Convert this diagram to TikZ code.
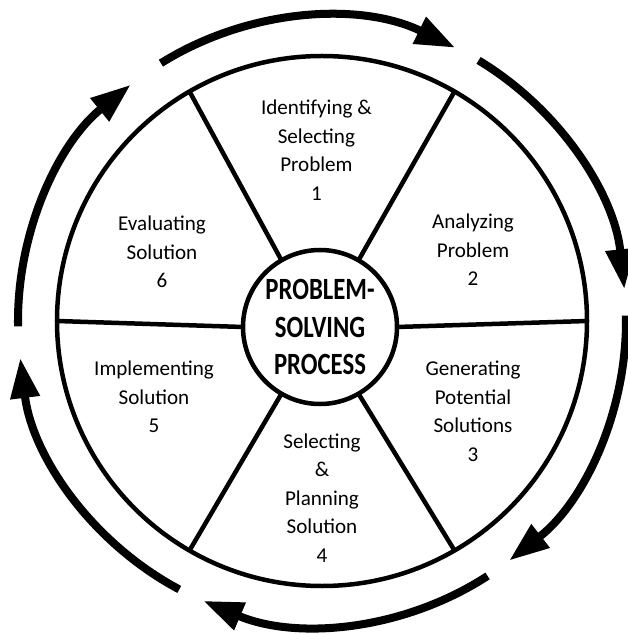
\documentclass[tikz,border=0pt]{standalone}
\usepackage{fontspec}
\setmainfont{Carlito}
\newfontfamily\hubfont{Carlito}[FakeStretch=0.8]
\usepackage{tikz}
\usetikzlibrary{arrows.meta}

\begin{document}
\begin{tikzpicture}[
  x=1cm,y=1cm,
  rule/.style={draw=black,line width=3.2pt},
  ring/.style={rule,circle,outer sep=0pt,inner sep=0pt},
  stage/.style={align=center,font=\fontsize{15}{20.3}\selectfont},
  turn/.style={-{Triangle[length=1.0cm,width=0.7cm]},draw=black,line width=5.7pt}
]
\useasboundingbox[fill=white] (-8.05,-7.825) rectangle (7.625,8.025);

% Wheel: outer rim, hub and six spokes between them.
\node[ring,minimum size=13.25cm] (rim) at (0,0) {};
\node[ring,minimum size=3.85cm,align=center,
  font=\hubfont\bfseries\fontsize{22}{27}\selectfont] (hub) at (-0.05,-0.15)
  {PROBLEM-\\SOLVING\\PROCESS};
\foreach \a in {0,60,...,300}
  \draw[rule] (hub.\a) -- (rim.\a);

% Stage labels, one per sector, clockwise from the top.
\node[stage] (s1) at (-0.14,4.275) {Identifying \&\\Selecting\\Problem\\1};
\node[stage] (s2) at (3.775,1.775) {Analyzing\\Problem\\2};
\node[stage] (s3) at (3.775,-2.26) {Generating\\Potential\\Solutions\\3};
\node[stage] (s4) at (0.0,-4.425) {Selecting\\\&\\Planning\\Solution\\4};
\node[stage] (s5) at (-4.2,-1.9) {Implementing\\Solution\\5};
\node[stage] (s6) at (-4.0,1.725) {Evaluating\\Solution\\6};

% Clockwise arrows running round the outside of the rim.
\foreach \s/\e in {122/64,59/6,1/-52,-57/-113,-118/-173,-179/-231}
  \draw[turn] (\s:7.6) arc[start angle=\s,end angle=\e,radius=7.6];

\end{tikzpicture}
\end{document}
